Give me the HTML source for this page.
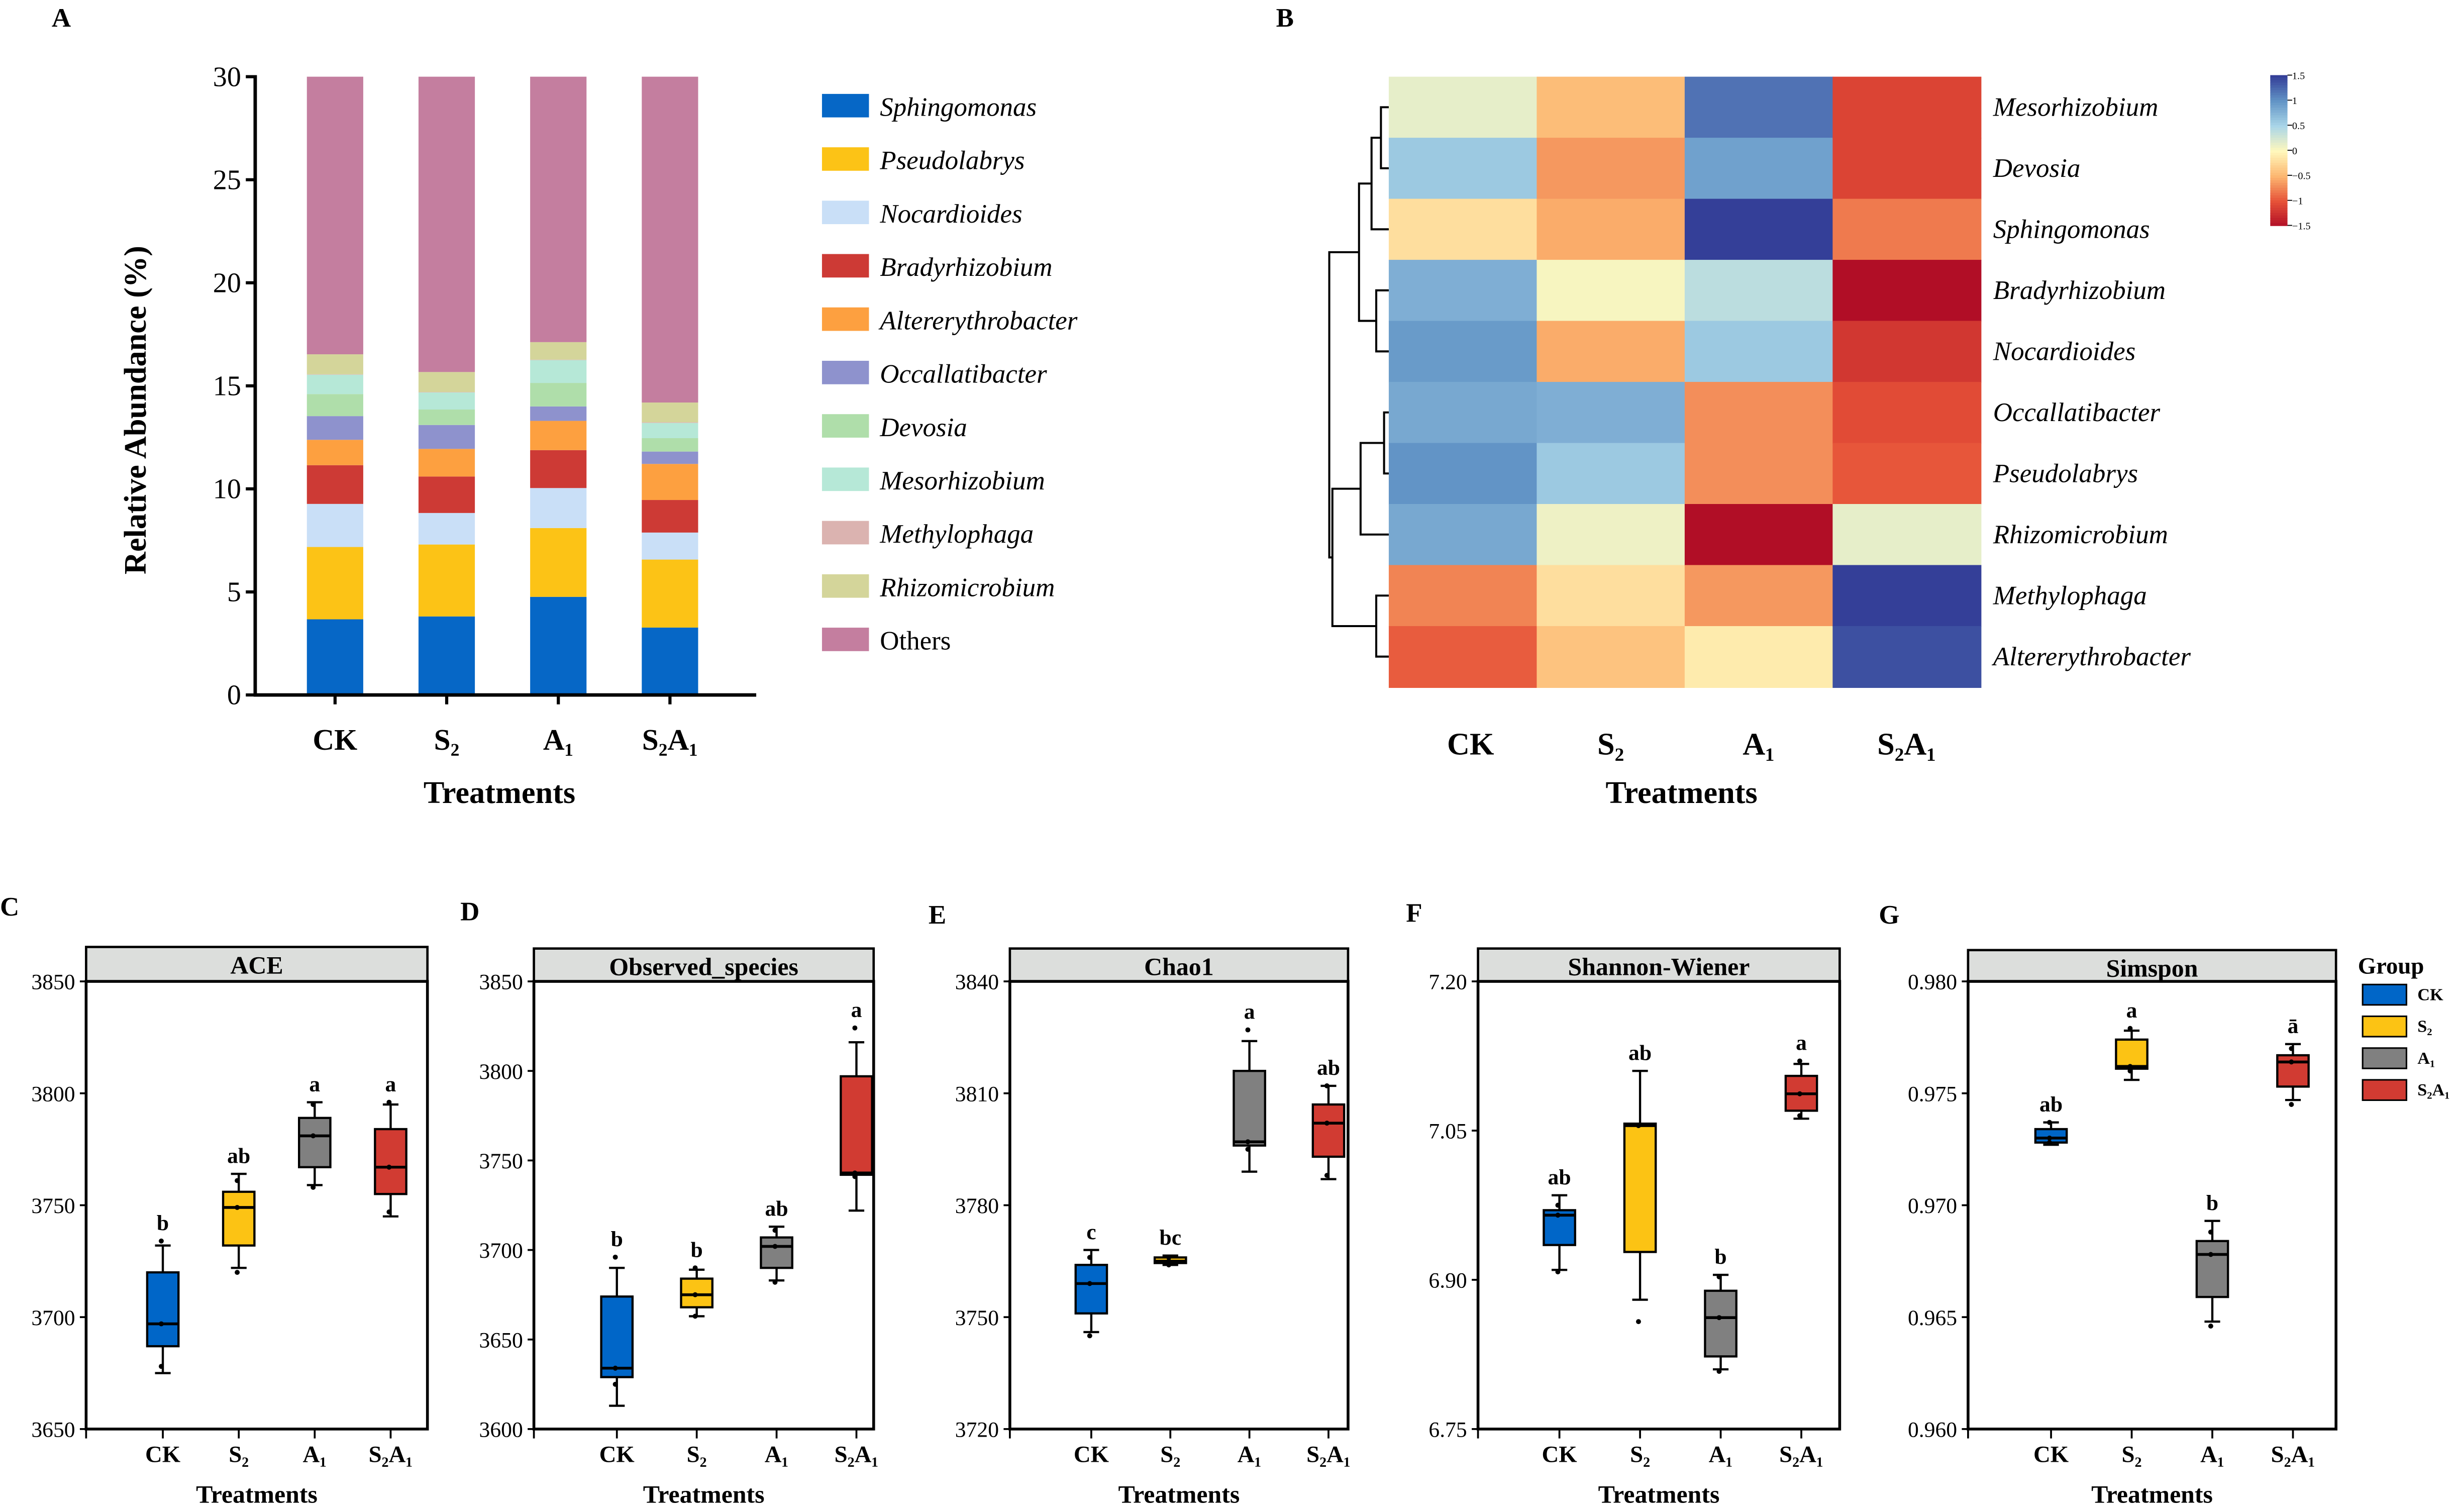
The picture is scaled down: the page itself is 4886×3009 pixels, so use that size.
<!DOCTYPE html>
<html><head><meta charset="utf-8"><style>html,body{margin:0;padding:0;background:#fff}svg{display:block}svg text{font-family:"Liberation Serif","DejaVu Serif",serif}</style></head>
<body>
<svg id="fig" width="4886" height="3009" viewBox="0 0 1568 966" preserveAspectRatio="none" font-family="Liberation Serif, serif" xmlns="http://www.w3.org/2000/svg">
<g id="root" font-family="Liberation Serif, serif"></g>
</svg>
<script>
// ---- Panel A data ----
const taxa=["Sphingomonas","Pseudolabrys","Nocardioides","Bradyrhizobium","Altererythrobacter","Occallatibacter","Devosia","Mesorhizobium","Methylophaga","Rhizomicrobium","Others"];
const groupsA=["CK","S₂","A₁","S₂A₁"];
const absCK=[3.67,3.51,2.09,1.88,1.23,1.15,1.07,0.94,0.02,0.97,13.47];
const absS2=[3.81,3.49,1.53,1.77,1.34,1.16,0.75,0.83,0.02,0.97,14.33];
const absA1=[4.76,3.34,1.94,1.84,1.42,0.70,1.14,1.11,0.02,0.85,12.88];
const absS2A1=[3.27,3.30,1.31,1.58,1.75,0.60,0.65,0.74,0.03,0.96,15.81];
const yTicksA=[0,5,10,15,20,25,30];
// ---- Panel B data ----
const heatRows=["Mesorhizobium","Devosia","Sphingomonas","Bradyrhizobium","Nocardioides","Occallatibacter","Pseudolabrys","Rhizomicrobium","Methylophaga","Altererythrobacter"];
const heatCols=["CK","S₂","A₁","S₂A₁"];
const zCK=[0.15,0.6,-0.2,0.8,0.95,0.85,1.0,0.85,-0.75,-0.95];
const zS2=[-0.45,-0.65,-0.55,0.05,-0.55,0.8,0.6,0.1,-0.2,-0.4];
const zA1=[1.2,0.9,1.5,0.4,0.6,-0.7,-0.7,-1.5,-0.65,-0.1];
const zS2A1=[-1.1,-1.1,-0.8,-1.5,-1.2,-1.05,-0.98,0.15,1.5,1.4];
const cbTicks=[1.5,1,0.5,0,-0.5,-1,-1.5];
// ---- Boxplot data: [min,q1,median,q3,max] ----
const cats=["CK","S₂","A₁","S₂A₁"];
const aceBox=[[3675,3687,3697,3720,3732],[3722,3732,3749,3756,3764],[3759,3767,3781,3789,3796],[3745,3755,3767,3784,3795]];
const acePts=[[3734,3697,3678],[3761,3749,3720],[3795,3781,3758],[3796,3767,3747]];
const aceLet=["b","ab","a","a"];
const aceTicks=[3650,3700,3750,3800,3850];
const obsBox=[[3613,3629,3634,3674,3690],[3663,3668,3675,3684,3689],[3683,3690,3702,3707,3713],[3722,3742,3743,3797,3816]];
const obsPts=[[3696,3634,3625],[3690,3675,3663],[3711,3702,3682],[3824,3743,3741]];
const obsLet=["b","b","ab","a"];
const obsTicks=[3600,3650,3700,3750,3800,3850];
const chaoBox=[[3746,3751,3759,3764,3768],[3764,3764.5,3765,3766,3766.5],[3789,3796,3797,3816,3824],[3787,3793,3802,3807,3812]];
const chaoPts=[[3745,3759,3766],[3766,3765,3764],[3827,3797,3795],[3812,3802,3788]];
const chaoLet=["c","bc","a","ab"];
const chaoTicks=[3720,3750,3780,3810,3840];
const shanBox=[[6.91,6.935,6.965,6.97,6.985],[6.88,6.928,7.055,7.057,7.11],[6.81,6.823,6.862,6.889,6.905],[7.062,7.07,7.087,7.105,7.117]];
const shanPts=[[6.975,6.965,6.908],[7.055,6.858],[6.903,6.862,6.808],[7.12,7.087,7.065]];
const shanLet=["ab","ab","b","a"];
const shanTicks=[6.75,6.90,7.05,7.20];
const simpBox=[[0.9727,0.9728,0.9730,0.9734,0.9737],[0.9756,0.9761,0.9762,0.9774,0.9778],[0.9648,0.9659,0.9678,0.9684,0.9693],[0.9747,0.9753,0.9764,0.9767,0.9772]];
const simpPts=[[0.9737,0.9730,0.9728],[0.9779,0.9762,0.9760],[0.9688,0.9678,0.9646],[0.9770,0.9764,0.9745]];
const simpLet=["ab","a","b","ā"];
const simpTicks=[0.960,0.965,0.970,0.975,0.980];

const NS="http://www.w3.org/2000/svg";
const root=document.getElementById('root');
function el(tag,attrs,parent,txt){const e=document.createElementNS(NS,tag);for(const k in attrs)e.setAttribute(k,attrs[k]);if(tag==='text')e.setAttribute('font-family','Liberation Serif, serif');if(txt!==undefined)e.textContent=txt;(parent||root).appendChild(e);return e;}

[["A",33,17],["B",815,17],["C",0,585],["D",294,588],["E",593,590],["F",898,589],["G",1200,590]].forEach(p=>{
const t=el('text',{x:p[1],y:p[2],'font-size':17,'font-weight':'bold'},root,p[0]);

});

// ===== Panel A =====
const colorsA=["#0667c6","#fcc316","#c9dff7","#cd3a35","#fda040","#8e92cd","#afdeaa","#b6e8d7","#dbb3b0","#d4d59a","#c47e9f"];
const gA=el('g',{});


const aX0=163,aX1=483,aY0=444,aY1=49;
const yA=v=>aY0-(v/30)*(aY0-aY1);
const xA=i=>214+i*71.3;
const dataA=[absCK,absS2,absA1,absS2A1];
dataA.forEach((arr,gi)=>{let cum=0;arr.forEach((v,ti)=>{
const top=Math.min(cum+v,30);
const r=el('rect',{x:xA(gi)-18,y:yA(top),width:36,height:Math.max(0,yA(cum)-yA(top)),fill:colorsA[ti]},gA);


cum+=v;});});
el('line',{x1:aX0,y1:aY1-1,x2:aX0,y2:aY0+1,stroke:'#000','stroke-width':2.2},gA);
el('line',{x1:aX0-1,y1:aY0,x2:aX1,y2:aY0,stroke:'#000','stroke-width':2.2},gA);
yTicksA.forEach(t=>{el('line',{x1:aX0-6,y1:yA(t),x2:aX0,y2:yA(t),stroke:'#000','stroke-width':2},gA);
const tt=el('text',{x:aX0-9,y:yA(t)+6,'font-size':18,'text-anchor':'end'},gA,t);

});
groupsA.forEach((g,i)=>{el('line',{x1:xA(i),y1:aY0,x2:xA(i),y2:aY0+6,stroke:'#000','stroke-width':2},gA);
const tt=el('text',{x:xA(i),y:479,'font-size':19,'font-weight':'bold','text-anchor':'middle'},gA,g);

});
const xtA=el('text',{x:319,y:513,'font-size':20,'font-weight':'bold','text-anchor':'middle'},gA,'Treatments');


const ytA=el('text',{x:0,y:0,'font-size':20,'font-weight':'bold','text-anchor':'middle',transform:'translate(93,262) rotate(-90)'},gA,'Relative Abundance  (%)');


taxa.forEach((t,i)=>{const y=68+i*34.1;
const g=el('g',{},gA);


el('rect',{x:525,y:y-8,width:30,height:15,fill:colorsA[i]},g);
el('text',{x:562,y:y+6,'font-size':17,'font-style':t==='Others'?'normal':'italic'},g,t);});

// ===== Panel B heatmap =====
const gB=el('g',{});


const stops=[[-1.5,[177,14,38]],[-1.0,[230,82,56]],[-0.5,[252,182,112]],[0,[255,248,188]],[0.5,[170,214,232]],[1.0,[98,148,198]],[1.5,[52,63,152]]];
function col(v){v=Math.max(-1.5,Math.min(1.5,v));for(let i=0;i<stops.length-1;i++){const a=stops[i],b=stops[i+1];if(v<=b[0]){const f=(v-a[0])/(b[0]-a[0]);return 'rgb('+a[1].map((c,k)=>Math.round(c+(b[1][k]-c)*f)).join(',')+')';}}return 'rgb(52,63,152)';}
const hx0=887,hy0=49,cw=94.5,rh=39;
const zCols=[zCK,zS2,zA1,zS2A1];
zCols.forEach((arr,ci)=>arr.forEach((v,ri)=>{
const r=el('rect',{x:hx0+ci*cw,y:hy0+ri*rh,width:cw+0.5,height:rh+0.5,fill:col(v)},gB);

}));
heatRows.forEach((n,ri)=>{const t=el('text',{x:1273,y:hy0+ri*rh+25,'font-size':17,'font-style':'italic'},gB,n);

});
heatCols.forEach((n,ci)=>{const t=el('text',{x:hx0+ci*cw+cw/2+(ci==0?5:0),y:482,'font-size':20,'font-weight':'bold','text-anchor':'middle'},gB,n);

});
const xtB=el('text',{x:1074,y:513,'font-size':20,'font-weight':'bold','text-anchor':'middle'},gB,'Treatments');


const rc=i=>hy0+rh/2+i*rh;
const dend=el('g',{stroke:'#000','stroke-width':1.3,fill:'none'},gB);


function link(xa,ya,xb,yb,xj){el('path',{d:`M${xa},${ya}H${xj}V${yb}H${xb}`},dend);}
const mD=(rc(0)+rc(1))/2; link(887,rc(0),887,rc(1),882);
const mS=(mD+rc(2))/2; link(882,mD,887,rc(2),876);
const mBN=(rc(3)+rc(4))/2; link(887,rc(3),887,rc(4),879);
const mTop=(mS+mBN)/2; link(876,mS,879,mBN,868);
const mOP=(rc(5)+rc(6))/2; link(887,rc(5),887,rc(6),884);
const mR=(mOP+rc(7))/2; link(884,mOP,887,rc(7),869);
const mMA=(rc(8)+rc(9))/2; link(887,rc(8),887,rc(9),879);
const mBot=(mR+mMA)/2; link(869,mR,879,mMA,851);
link(868,mTop,851,mBot,849);
const cb=el('g',{},gB);


const cbx=1450,cby0=48,cby1=144;
for(let i=0;i<60;i++){const v=1.5-3*i/60;el('rect',{x:cbx,y:cby0+i*(cby1-cby0)/60,width:11,height:(cby1-cby0)/60+0.4,fill:col(v)},cb);}
cbTicks.forEach(t=>{const y=cby0+(1.5-t)/3*(cby1-cby0);el('line',{x1:cbx+11,y1:y,x2:cbx+14,y2:y,stroke:'#000','stroke-width':0.6},cb);
el('text',{x:cbx+14,y:y+2.5,'font-size':6.5},cb,t===0?'0':(t<0?'−'+(-t):t));});

// ===== Boxplots =====
const boxColors=["#0066c8","#fcc314","#808080","#d13b32"];
function boxPanel(name,title,x0,x1,ticks,box,pts,lets,firstCat,step,titleY){
const g=el('g',{});


const yb=913,yt=627,lo=ticks[0],hi=ticks[ticks.length-1];
const Y=v=>yb-(v-lo)/(hi-lo)*(yb-yt);
const X=i=>firstCat+i*step;
el('rect',{x:x0,y:titleY,width:x1-x0,height:yt-titleY,fill:'#dcdedc',stroke:'#000','stroke-width':1.5},g);
const tt=el('text',{x:(x0+x1)/2,y:titleY+17,'font-size':16,'font-weight':'bold','text-anchor':'middle'},g,title);


el('rect',{x:x0,y:yt,width:x1-x0,height:yb-yt,fill:'none',stroke:'#000','stroke-width':1.8},g);
ticks.forEach(t=>{el('line',{x1:x0-4,y1:Y(t),x2:x0,y2:Y(t),stroke:'#000','stroke-width':1.2},g);
const lbl=el('text',{x:x0-7,y:Y(t)+5,'font-size':14,'text-anchor':'end'},g,(title==='Shannon-Wiener'?t.toFixed(2):(title==='Simspon'?t.toFixed(3):t)));

});
el('line',{x1:x0,y1:yb,x2:x0,y2:yb+6,stroke:'#000','stroke-width':1.2},g);
cats.forEach((c,i)=>{const x=X(i),b=box[i];
el('line',{x1:x,y1:yb,x2:x,y2:yb+6,stroke:'#000','stroke-width':1.2},g);
const cl=el('text',{x:x,y:934,'font-size':15,'font-weight':'bold','text-anchor':'middle'},g,c);


const bg=el('g',{stroke:'#000','stroke-width':1.4},g);


el('line',{x1:x,y1:Y(b[0]),x2:x,y2:Y(b[4])},bg);
el('line',{x1:x-5,y1:Y(b[0]),x2:x+5,y2:Y(b[0])},bg);
el('line',{x1:x-5,y1:Y(b[4]),x2:x+5,y2:Y(b[4])},bg);
el('rect',{x:x-10,y:Y(b[3]),width:20,height:Math.max(1,Y(b[1])-Y(b[3])),fill:boxColors[i]},bg);
el('line',{x1:x-10,y1:Y(b[2]),x2:x+10,y2:Y(b[2]),'stroke-width':1.8},bg);
pts[i].forEach(p=>{el('circle',{cx:x-1,cy:Y(p),r:1.6,fill:'#000',stroke:'none'},g);});
const top=Math.max(b[4],...pts[i]);
const lt=el('text',{x:x,y:Y(top)-7,'font-size':14,'font-weight':'bold','text-anchor':'middle'},g,lets[i]);

});
const xt=el('text',{x:(x0+x1)/2,y:960,'font-size':16,'font-weight':'bold','text-anchor':'middle'},g,'Treatments');

}
boxPanel('ace','ACE',55,273,aceTicks,aceBox,acePts,aceLet,104,48.5,605);
boxPanel('observed','Observed_species',341,558,obsTicks,obsBox,obsPts,obsLet,394,51,606);
boxPanel('chao1','Chao1',645,861,chaoTicks,chaoBox,chaoPts,chaoLet,697,50.5,606);
boxPanel('shannon','Shannon-Wiener',944,1175,shanTicks,shanBox,shanPts,shanLet,996,51.5,606);
boxPanel('simpson','Simspon',1257,1492,simpTicks,simpBox,simpPts,simpLet,1310,51.5,607);
const lg=el('g',{});


el('text',{x:1506,y:622,'font-size':15,'font-weight':'bold'},lg,'Group');
cats.forEach((c,i)=>{const y=629+i*20.3;const e=el('g',{},lg);


el('rect',{x:1509,y:y,width:28,height:13,fill:boxColors[i],stroke:'#000','stroke-width':1},e);
el('text',{x:1544,y:y+10,'font-size':11,'font-weight':'bold'},e,c);});
</script>
</body></html>
